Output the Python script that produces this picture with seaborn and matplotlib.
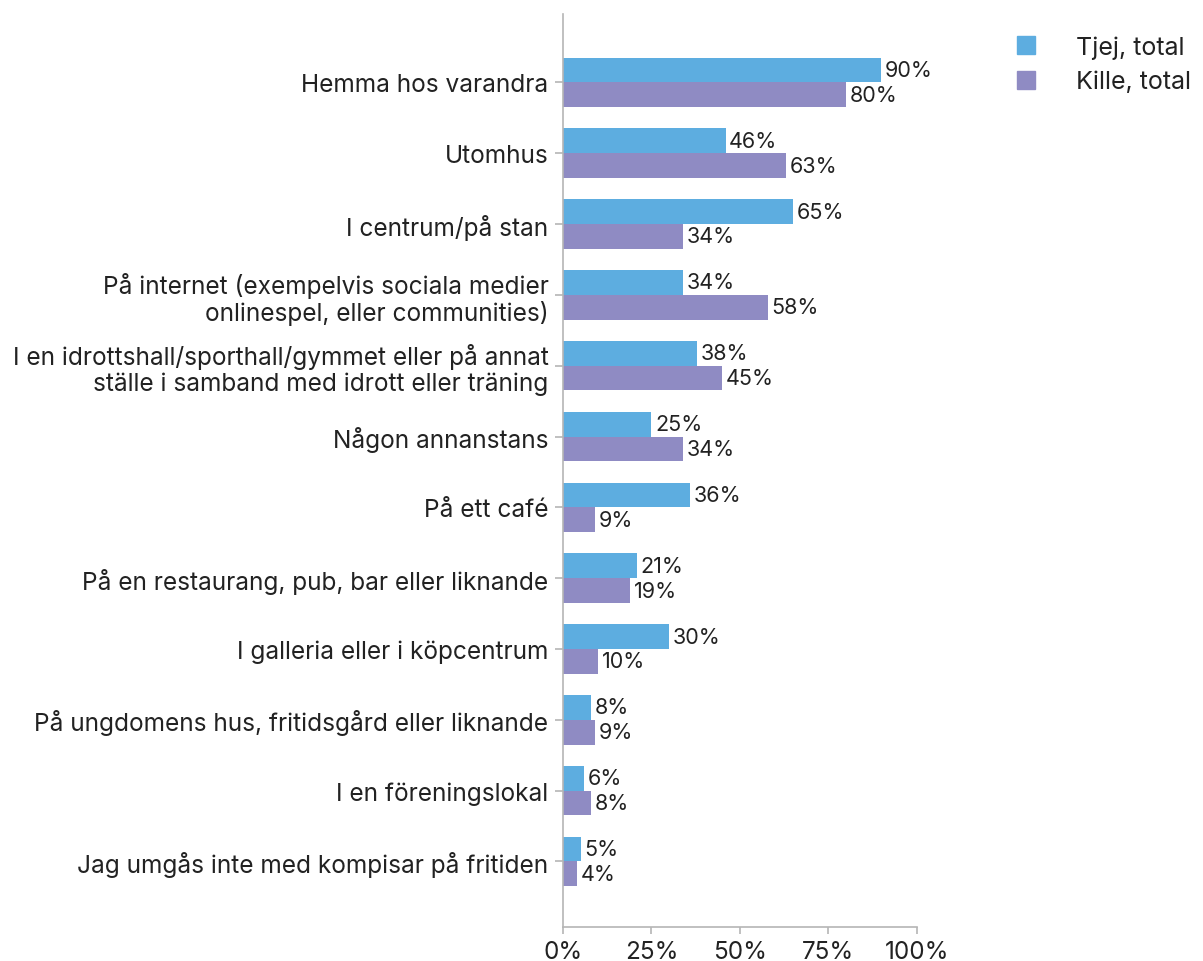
import matplotlib
matplotlib.use("Agg")
import matplotlib.pyplot as plt
import seaborn as sns
import pandas as pd
from matplotlib.lines import Line2D

categories = [
    "Hemma hos varandra",
    "Utomhus",
    "I centrum/på stan",
    "På internet (exempelvis sociala medier\nonlinespel, eller communities)",
    "I en idrottshall/sporthall/gymmet eller på annat\nställe i samband med idrott eller träning",
    "Någon annanstans",
    "På ett café",
    "På en restaurang, pub, bar eller liknande",
    "I galleria eller i köpcentrum",
    "På ungdomens hus, fritidsgård eller liknande",
    "I en föreningslokal",
    "Jag umgås inte med kompisar på fritiden",
]
tjej = [90, 46, 65, 34, 38, 25, 36, 21, 30, 8, 6, 5]
kille = [80, 63, 34, 58, 45, 34, 9, 19, 10, 9, 8, 4]
series_names = ["Tjej, total", "Kille, total"]
xticks = [0, 25, 50, 75, 100]
xtick_labels = ["0%", "25%", "50%", "75%", "100%"]

colors = ["#5DADE0", "#8F8BC3"]
text_color = "#222222"

sns.set_style("white")
plt.rcParams["font.family"] = ["Inter", "DejaVu Sans"]

df = pd.DataFrame({
    "category": categories * 2,
    "value": tjej + kille,
    "series": [series_names[0]] * len(categories) + [series_names[1]] * len(categories),
})

fig = plt.figure(figsize=(12.03, 9.62), dpi=100)
ax = fig.add_axes([0.468, 0.035, 0.294, 0.949])

sns.barplot(data=df, y="category", x="value", hue="series", orient="h",
            palette=colors, width=0.7, ax=ax, legend=False, saturation=1,
            linewidth=0)

for cont in ax.containers:
    ax.bar_label(cont, labels=[f"{int(round(v.get_width()))}%" for v in cont],
                 padding=2.5, fontsize=15.5, color=text_color)

ax.set_xlim(0, 100)
ax.set_ylim(11.93, -0.96)
ax.set_xticks(xticks)
ax.set_xticklabels(xtick_labels, fontsize=17.5, color=text_color)
ax.set_yticks(range(len(categories)))
ax.set_yticklabels(categories, fontsize=17.6, color=text_color, linespacing=1.1)
ax.set_xlabel("")
ax.set_ylabel("")

for s in ["top", "right"]:
    ax.spines[s].set_visible(False)
for s in ["left", "bottom"]:
    ax.spines[s].set_color("#b5b5b5")
    ax.spines[s].set_linewidth(1.2)
ax.tick_params(axis="x", length=5, color="#b5b5b5", width=1.2, pad=4, direction="out", bottom=True)
ax.tick_params(axis="y", length=6, color="#b5b5b5", width=1.2, pad=4.5, direction="out", left=True)

handles = [Line2D([0], [0], marker="s", linestyle="", markersize=12.5,
                  markerfacecolor=c, markeredgecolor=c) for c in colors]
fig.legend(handles, series_names, loc="upper left", bbox_to_anchor=(0.832, 0.962),
           frameon=False, fontsize=18, handletextpad=1.0, labelspacing=0.45,
           borderaxespad=0, borderpad=0, handlelength=2.0,
           labelcolor=text_color)

fig.savefig("out.png", dpi=100)
